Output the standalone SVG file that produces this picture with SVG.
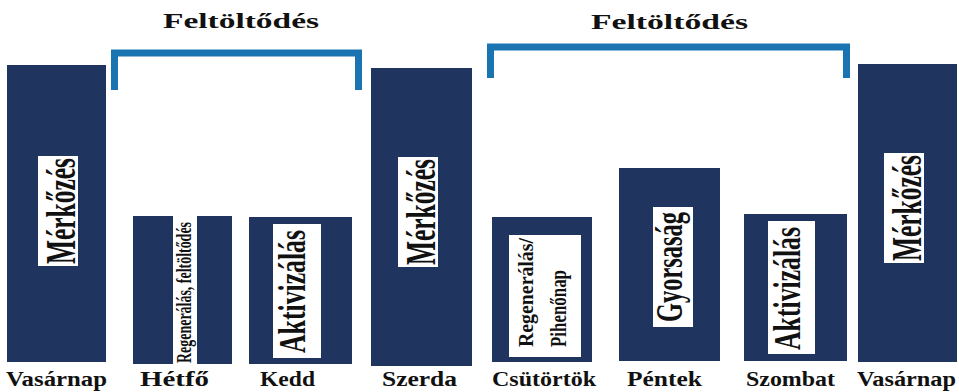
<svg xmlns="http://www.w3.org/2000/svg" width="959" height="392" viewBox="0 0 959 392">
<style>
.bar{fill:#1f3560}
.box{fill:#ffffff}
text{font-family:'Liberation Serif','Times New Roman',serif;font-weight:bold;fill:#111111}
.day{font-size:20px}
.title{font-size:22px}
.br{fill:none;stroke:#1a74b2;stroke-width:7;stroke-linecap:butt;stroke-linejoin:miter}
</style>
<rect width="959" height="392" fill="#ffffff"/>
<g id="brackets">
  <path class="br" d="M114.5,90 V53 H358.5 V90"/>
  <path class="br" d="M490.5,78 V47 H846.5 V78"/>
  <text class="title" x="163" y="28" textLength="156" lengthAdjust="spacingAndGlyphs">Feltöltődés</text>
  <text class="title" x="591" y="29" textLength="157" lengthAdjust="spacingAndGlyphs">Feltöltődés</text>
</g>
<g id="vasarnap1">
  <rect class="bar" x="7" y="65" width="99" height="297"/>
  <rect class="box" x="38" y="156" width="40" height="110"/>
  <text font-size="42" transform="translate(75,264) rotate(-90)" textLength="106" lengthAdjust="spacingAndGlyphs">Mérkőzés</text>
  <text class="day" x="6" y="386" textLength="101" lengthAdjust="spacingAndGlyphs">Vasárnap</text>
</g>
<g id="hetfo">
  <rect class="bar" x="133" y="216" width="99" height="148"/>
  <rect class="box" x="173" y="216" width="24" height="148"/>
  <text font-size="21" transform="translate(191,363) rotate(-90)" textLength="141" lengthAdjust="spacingAndGlyphs">Regenerálás, feltöltődés</text>
  <text class="day" x="140" y="386" textLength="69" lengthAdjust="spacingAndGlyphs">Hétfő</text>
</g>
<g id="kedd">
  <rect class="bar" x="249" y="217" width="103" height="147"/>
  <rect class="box" x="273" y="224" width="48" height="134"/>
  <text font-size="38" transform="translate(305,353) rotate(-90)" textLength="123" lengthAdjust="spacingAndGlyphs">Aktivizálás</text>
  <text class="day" x="260" y="386" textLength="55" lengthAdjust="spacingAndGlyphs">Kedd</text>
</g>
<g id="szerda">
  <rect class="bar" x="371" y="68" width="101" height="298"/>
  <rect class="box" x="398" y="157" width="40" height="110"/>
  <text font-size="42" transform="translate(435,265) rotate(-90)" textLength="106" lengthAdjust="spacingAndGlyphs">Mérkőzés</text>
  <text class="day" x="382" y="386" textLength="75" lengthAdjust="spacingAndGlyphs">Szerda</text>
</g>
<g id="csutortok">
  <rect class="bar" x="492" y="217" width="100" height="145"/>
  <rect class="box" x="509" y="235" width="72" height="122"/>
  <text font-size="22" transform="translate(533,347) rotate(-90)" textLength="109" lengthAdjust="spacingAndGlyphs">Regenerálás/</text>
  <text font-size="24" transform="translate(566,347) rotate(-90)" textLength="77" lengthAdjust="spacingAndGlyphs">Pihenőnap</text>
  <text class="day" x="492" y="386" textLength="104" lengthAdjust="spacingAndGlyphs">Csütörtök</text>
</g>
<g id="pentek">
  <rect class="bar" x="619" y="168" width="101" height="193"/>
  <rect class="box" x="653" y="207" width="40" height="120"/>
  <text font-size="37" transform="translate(682,322) rotate(-90)" textLength="110" lengthAdjust="spacingAndGlyphs">Gyorsaság</text>
  <text class="day" x="627" y="386" textLength="75" lengthAdjust="spacingAndGlyphs">Péntek</text>
</g>
<g id="szombat">
  <rect class="bar" x="744" y="214" width="103" height="147"/>
  <rect class="box" x="768" y="221" width="47" height="133"/>
  <text font-size="38" transform="translate(800,350) rotate(-90)" textLength="123" lengthAdjust="spacingAndGlyphs">Aktivizálás</text>
  <text class="day" x="746" y="386" textLength="89" lengthAdjust="spacingAndGlyphs">Szombat</text>
</g>
<g id="vasarnap2">
  <rect class="bar" x="858" y="64" width="99" height="298"/>
  <rect class="box" x="884" y="153" width="40" height="110"/>
  <text font-size="42" transform="translate(921,261) rotate(-90)" textLength="106" lengthAdjust="spacingAndGlyphs">Mérkőzés</text>
  <text class="day" x="857" y="386" textLength="99" lengthAdjust="spacingAndGlyphs">Vasárnap</text>
</g>
</svg>
